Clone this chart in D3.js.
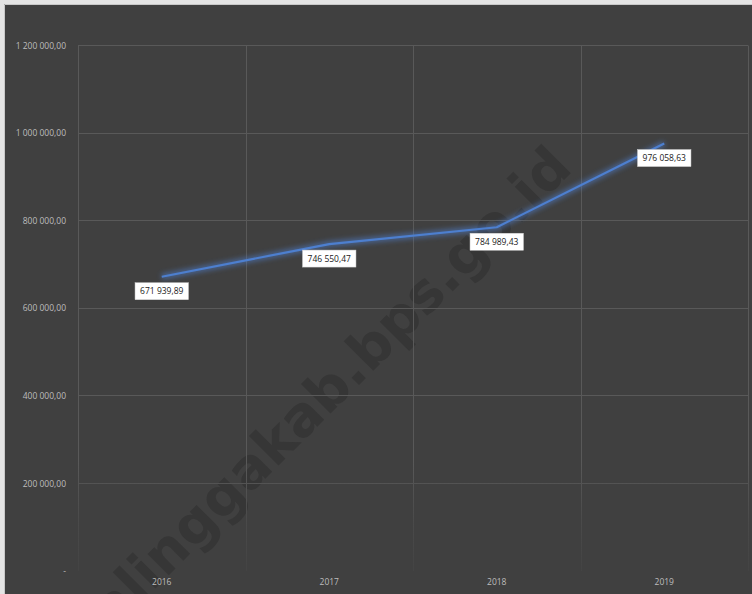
<!DOCTYPE html>
<html>
<head>
<meta charset="utf-8">
<script src="https://cdnjs.cloudflare.com/ajax/libs/d3/7.8.5/d3.min.js"></script>
<style>
  html, body { margin: 0; padding: 0; background: #e4e4e4; }
  svg { display: block; }
</style>
</head>
<body>
<div id="chart"></div>
<script>
const years = ["2016", "2017", "2018", "2019"];
const values = [671939.89, 746550.47, 784989.43, 976058.63];
const yTicks = [0, 200000, 400000, 600000, 800000, 1000000, 1200000];
const watermark = "purbalinggakab.bps.go.id";

const width = 752, height = 594;
const margin = {left: 78, top: 45.5, right: 4, bottom: 23};
const innerW = width - margin.left - margin.right;
const innerH = height - margin.top - margin.bottom;

const idLocale = d3.formatLocale({decimal: ",", thousands: " ", grouping: [3], currency: ["", ""]});
const fmt = idLocale.format(",.2f");

const svg = d3.select("#chart").append("svg")
  .attr("width", width)
  .attr("height", height);

// background panel (image is cropped, light edge on top and left)
svg.append("rect")
  .attr("x", 4).attr("y", 4)
  .attr("width", width - 4).attr("height", height - 4)
  .attr("fill", "#404040");
svg.append("path")
  .attr("d", `M4.5,${height} V4.5 H${width}`)
  .attr("fill", "none")
  .attr("stroke", "#c8c8c8");

const defs = svg.append("defs");
const fade = defs.append("linearGradient")
  .attr("id", "gridFade")
  .attr("gradientUnits", "userSpaceOnUse")
  .attr("x1", 0).attr("y1", 0).attr("x2", 0).attr("y2", height);
fade.append("stop").attr("offset", "0.7").attr("stop-color", "#595959");
fade.append("stop").attr("offset", "0.8").attr("stop-color", "#4a4a4a");
fade.append("stop").attr("offset", "0.93").attr("stop-color", "#404040");

const glow = defs.append("filter").attr("id", "glow")
  .attr("x", "-10%").attr("y", "-50%").attr("width", "120%").attr("height", "200%");
glow.append("feGaussianBlur").attr("stdDeviation", 2.5);

const x = d3.scaleBand().domain(years).range([0, innerW]);
const y = d3.scaleLinear().domain([0, 1200000]).range([innerH, 0]);

// watermark
svg.append("text")
  .attr("transform", "translate(574,170) rotate(-45)")
  .attr("text-anchor", "end")
  .attr("font-family", "'DejaVu Sans', sans-serif")
  .attr("font-weight", "bold")
  .attr("font-size", 55)
  .attr("fill", "#363636")
  .text(watermark);

const g = svg.append("g").attr("transform", `translate(${margin.left},${margin.top})`);

// gridlines
const grid = g.append("g").attr("stroke", "url(#gridFade)").attr("stroke-width", 1);
grid.selectAll("line.h")
  .data(yTicks.filter(d => d > 0))
  .join("line")
  .attr("class", "h")
  .attr("x1", 0).attr("x2", innerW)
  .attr("y1", d => Math.round(y(d)))
  .attr("y2", d => Math.round(y(d)));
grid.selectAll("line.v")
  .data(years.map(d => x(d)).concat([innerW]))
  .join("line")
  .attr("class", "v")
  .attr("x1", d => Math.round(d) + 0.5).attr("x2", d => Math.round(d) + 0.5)
  .attr("y1", 0).attr("y2", innerH);

// y axis
const yAxis = g.append("g")
  .call(d3.axisLeft(y).tickValues(yTicks).tickSize(0).tickPadding(12)
    .tickFormat(d => d === 0 ? "-" : fmt(d)));
yAxis.select(".domain").remove();
yAxis.selectAll("text")
  .attr("fill", "#bdbdbd")
  .attr("font-family", "'Open Sans', sans-serif")
  .attr("font-size", 8.5);

// x axis
const xAxis = g.append("g")
  .attr("transform", `translate(0,${innerH})`)
  .call(d3.axisBottom(x).tickSize(0).tickPadding(8));
xAxis.select(".domain").remove();
xAxis.selectAll("text")
  .attr("fill", "#bdbdbd")
  .attr("font-family", "'Open Sans', sans-serif")
  .attr("font-size", 8.5);

// line
const pts = years.map((yr, i) => [x(yr) + x.bandwidth() / 2, y(values[i])]);
const line = d3.line();
g.append("path")
  .attr("d", line(pts))
  .attr("fill", "none")
  .attr("stroke", "#4f7fd0")
  .attr("stroke-width", 6)
  .attr("stroke-opacity", 0.55)
  .attr("filter", "url(#glow)");
g.append("path")
  .attr("d", line(pts))
  .attr("fill", "none")
  .attr("stroke", "#4d7fcf")
  .attr("stroke-width", 2.2)
  .attr("stroke-linejoin", "round");

// data labels
const labels = g.selectAll("g.lab")
  .data(pts.map((p, i) => ({p, v: values[i]})))
  .join("g")
  .attr("class", "lab")
  .attr("transform", d => `translate(${d.p[0]},${d.p[1] + 14.5})`);
labels.append("rect");
labels.append("text")
  .attr("text-anchor", "middle")
  .attr("dy", "0.35em")
  .attr("font-family", "'Open Sans', sans-serif")
  .attr("font-size", 8.5)
  .attr("fill", "#1a1a1a")
  .text(d => fmt(d.v));
labels.each(function() {
  const t = d3.select(this).select("text").node().getBBox();
  d3.select(this).select("rect")
    .attr("x", -t.width / 2 - 5).attr("y", -8.5)
    .attr("width", t.width + 10).attr("height", 17)
    .attr("fill", "#ffffff")
    .attr("stroke", "#d0d0d0")
    .attr("stroke-width", 0.5);
});
</script>
</body>
</html>
